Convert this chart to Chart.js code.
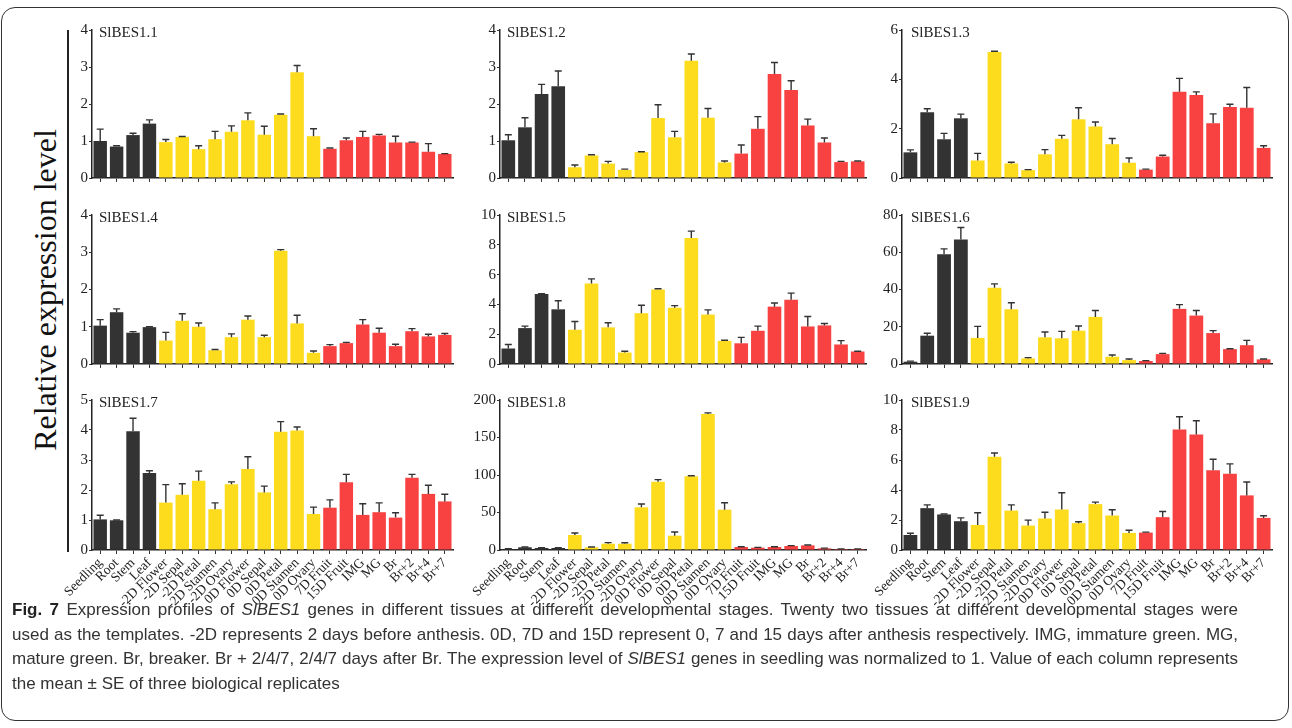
<!DOCTYPE html>
<html>
<head>
<meta charset="utf-8">
<script src="https://cdn.jsdelivr.net/npm/chart.js@4.4.0/dist/chart.umd.min.js"></script>
<style>
  body { margin: 0; width: 1292px; height: 728px; background: #fff; position: relative; overflow: hidden; }
  .frame { position: absolute; left: 1px; top: 7px; width: 1286px; height: 712px; border: 1.5px solid #333; border-radius: 14px; }
  .panel { position: absolute; }
  .ptitle { position: absolute; font-family: "Liberation Serif", "Times New Roman", serif; font-size: 15px; color: #222; line-height: 16px; }
  .ylab { position: absolute; left: -205px; top: 270px; width: 500px; text-align: center; transform: rotate(-90deg);
          font-family: "Liberation Serif", serif; font-size: 32px; color: #111; line-height: 40px; }
  .vline { position: absolute; left: 67px; top: 30px; width: 2px; height: 522px; background: #222; }
  .caption { position: absolute; left: 12px; top: 598px; font-family: "Liberation Sans Narrow", "Arial Narrow", "Liberation Sans", sans-serif;
             font-size: 17px; line-height: 24.5px; color: #333; white-space: nowrap; }
  .caption span { display: inline-block; }
  .caption span.full { width: 1226px; text-align: justify; text-align-last: justify; }
  .caption b { color: #222; }
</style>
</head>
<body>
<div class="frame"></div>
<div class="vline"></div>
<div class="ylab">Relative expression level</div>
<div id="wrap"></div>
<div class="caption">
<span class="full"><b>Fig. 7</b> Expression profiles of <i>SlBES1</i> genes in different tissues at different developmental stages. Twenty two tissues at different developmental stages were</span><br>
<span class="full">used as the templates. -2D represents 2 days before anthesis. 0D, 7D and 15D represent 0, 7 and 15 days after anthesis respectively. IMG, immature green. MG,</span><br>
<span class="full">mature green. Br, breaker. Br + 2/4/7, 2/4/7 days after Br. The expression level of <i>SlBES1</i> genes in seedling was normalized to 1. Value of each column represents</span><br>
<span>the mean ± SE of three biological replicates</span>
</div>

<script>
// tissues on the x axis
const tissues = ['Seedling', 'Root', 'Stem', 'Leaf',
  '-2D Flower', '-2D Sepal', '-2D Petal', '-2D Stamen', '-2D Ovary',
  '0D Flower', '0D Sepal', '0D Petal', '0D Stamen', '0D Ovary',
  '7D Fruit', '15D Fruit', 'IMG', 'MG', 'Br', 'Br+2', 'Br+4', 'Br+7'];
const groupSizes = [4, 10, 8];
const groupColors = ['#333333', '#FDDB1D', '#F84141'];

// mean values and SE for each gene
const vals11 = [1.0, 0.85, 1.16, 1.47, 0.97, 1.11, 0.78, 1.05, 1.25, 1.56, 1.17, 1.71, 2.86, 1.13, 0.79, 1.02, 1.11, 1.15, 0.96, 0.96, 0.71, 0.65];
const errs11 = [0.32, 0.02, 0.05, 0.1, 0.07, 0.01, 0.09, 0.21, 0.16, 0.2, 0.23, 0.02, 0.18, 0.2, 0.02, 0.06, 0.15, 0.03, 0.17, 0.01, 0.22, 0.01];
const vals12 = [1.02, 1.37, 2.27, 2.48, 0.29, 0.61, 0.39, 0.22, 0.7, 1.62, 1.1, 3.17, 1.63, 0.42, 0.66, 1.33, 2.81, 2.38, 1.42, 0.96, 0.43, 0.45];
const errs12 = [0.15, 0.26, 0.26, 0.41, 0.06, 0.02, 0.06, 0.02, 0.01, 0.36, 0.16, 0.18, 0.25, 0.04, 0.23, 0.33, 0.31, 0.25, 0.17, 0.12, 0.02, 0.01];
const vals13 = [1.04, 2.67, 1.57, 2.42, 0.71, 5.11, 0.59, 0.32, 0.96, 1.59, 2.38, 2.09, 1.37, 0.62, 0.34, 0.87, 3.5, 3.36, 2.22, 2.88, 2.85, 1.22];
const errs13 = [0.1, 0.14, 0.24, 0.17, 0.29, 0.03, 0.05, 0.02, 0.19, 0.14, 0.47, 0.18, 0.23, 0.19, 0.02, 0.05, 0.54, 0.13, 0.38, 0.11, 0.82, 0.09];
const vals14 = [1.03, 1.39, 0.84, 0.99, 0.63, 1.16, 1.0, 0.37, 0.72, 1.19, 0.72, 3.04, 1.09, 0.3, 0.48, 0.56, 1.06, 0.84, 0.48, 0.88, 0.74, 0.78];
const errs14 = [0.16, 0.09, 0.03, 0.01, 0.22, 0.19, 0.1, 0.02, 0.09, 0.1, 0.05, 0.03, 0.22, 0.05, 0.04, 0.02, 0.13, 0.12, 0.05, 0.07, 0.06, 0.04];
const vals15 = [1.04, 2.41, 4.69, 3.67, 2.3, 5.4, 2.46, 0.77, 3.41, 5.0, 3.78, 8.45, 3.32, 1.55, 1.39, 2.23, 3.85, 4.31, 2.52, 2.59, 1.31, 0.84];
const errs15 = [0.27, 0.13, 0.03, 0.58, 0.55, 0.31, 0.31, 0.09, 0.53, 0.05, 0.14, 0.47, 0.31, 0.04, 0.4, 0.31, 0.24, 0.45, 0.67, 0.13, 0.26, 0.02];
const vals16 = [1.24, 15.2, 58.9, 66.9, 14.0, 40.9, 29.4, 3.0, 14.3, 13.8, 17.9, 25.3, 3.9, 2.1, 1.6, 5.3, 29.6, 26.0, 16.6, 8.0, 10.1, 2.5];
const errs16 = [0.3, 1.3, 2.9, 6.4, 6.2, 2.1, 3.5, 0.4, 2.9, 3.7, 2.5, 3.4, 0.9, 0.6, 0.2, 0.4, 2.3, 2.7, 1.3, 0.2, 2.6, 0.2];
const vals17 = [1.02, 0.99, 3.96, 2.57, 1.58, 1.84, 2.31, 1.36, 2.19, 2.7, 1.92, 3.94, 3.98, 1.2, 1.41, 2.26, 1.17, 1.26, 1.08, 2.41, 1.87, 1.62];
const errs17 = [0.14, 0.01, 0.43, 0.07, 0.6, 0.37, 0.32, 0.21, 0.08, 0.41, 0.21, 0.34, 0.12, 0.23, 0.26, 0.26, 0.37, 0.31, 0.16, 0.11, 0.29, 0.24];
const vals18 = [1.3, 3.6, 2.7, 2.7, 20.0, 3.6, 8.4, 8.4, 56.9, 91.1, 19.1, 98.2, 181.3, 53.8, 4.0, 3.1, 4.0, 5.3, 6.2, 2.2, 1.3, 1.3];
const errs18 = [0.3, 0.5, 0.4, 0.4, 2.7, 0.5, 1.4, 1.2, 4.4, 2.7, 4.9, 0.8, 1.5, 9.3, 0.4, 0.4, 0.4, 0.6, 0.5, 0.3, 0.2, 0.2];
const vals19 = [1.0, 2.79, 2.37, 1.92, 1.67, 6.21, 2.63, 1.63, 2.1, 2.7, 1.79, 3.06, 2.3, 1.14, 1.16, 2.19, 8.04, 7.7, 5.31, 5.09, 3.64, 2.14];
const errs19 = [0.12, 0.22, 0.03, 0.22, 0.81, 0.26, 0.38, 0.36, 0.42, 1.12, 0.09, 0.13, 0.38, 0.18, 0.03, 0.38, 0.84, 0.92, 0.74, 0.65, 0.89, 0.14];

// y axis max / step per gene
const yMax = [4, 4, 6, 4, 10, 80, 5, 200, 10];
const yStep = [1, 1, 2, 1, 2, 20, 1, 50, 2];

const panels = [
  { title: 'SlBES1.1', vals: vals11, errs: errs11 },
  { title: 'SlBES1.2', vals: vals12, errs: errs12 },
  { title: 'SlBES1.3', vals: vals13, errs: errs13 },
  { title: 'SlBES1.4', vals: vals14, errs: errs14 },
  { title: 'SlBES1.5', vals: vals15, errs: errs15 },
  { title: 'SlBES1.6', vals: vals16, errs: errs16 },
  { title: 'SlBES1.7', vals: vals17, errs: errs17 },
  { title: 'SlBES1.8', vals: vals18, errs: errs18 },
  { title: 'SlBES1.9', vals: vals19, errs: errs19 }
];

// grid positions (pixels)
const colAxis = [92, 500, 902];
const colRight = [453, 866, 1272];
const rowTop = [30, 215, 400];
const rowBottom = [180, 366, 550];
const titleX = [99, 507, 911];

const barColors = [];
groupSizes.forEach((n, g) => { for (let i = 0; i < n; i++) barColors.push(groupColors[g]); });

// upper error bars
const errorBars = {
  id: 'errorBars',
  afterDatasetsDraw(chart) {
    const ctx = chart.ctx;
    const yScale = chart.scales.y;
    const meta = chart.getDatasetMeta(0);
    const errs = chart.data.datasets[0].errs;
    ctx.save();
    ctx.strokeStyle = '#333';
    ctx.lineWidth = 1.4;
    meta.data.forEach((bar, i) => {
      const v = chart.data.datasets[0].data[i];
      const yTop = yScale.getPixelForValue(v + errs[i]);
      ctx.beginPath();
      ctx.moveTo(bar.x, bar.y);
      ctx.lineTo(bar.x, yTop);
      ctx.moveTo(bar.x - 3.5, yTop);
      ctx.lineTo(bar.x + 3.5, yTop);
      ctx.stroke();
    });
    ctx.restore();
  }
};

const wrap = document.getElementById('wrap');
const padTop = 12, leftRoom = 60;

panels.forEach((p, k) => {
  const col = k % 3, row = Math.floor(k / 3);
  const xh = row === 2 ? 60 : 8;
  const w = colRight[col] - colAxis[col] + leftRoom + 6;
  const h = rowBottom[row] - rowTop[row] + padTop + xh;

  const box = document.createElement('div');
  box.className = 'panel';
  box.style.left = (colAxis[col] - leftRoom) + 'px';
  box.style.top = (rowTop[row] - padTop) + 'px';
  box.style.width = w + 'px';
  box.style.height = h + 'px';
  const cv = document.createElement('canvas');
  box.appendChild(cv);
  wrap.appendChild(box);

  const t = document.createElement('div');
  t.className = 'ptitle';
  t.textContent = p.title;
  t.style.left = titleX[col] + 'px';
  t.style.top = (rowTop[row] - 6) + 'px';
  wrap.appendChild(t);

  new Chart(cv, {
    type: 'bar',
    data: {
      labels: tissues,
      datasets: [{
        data: p.vals,
        errs: p.errs,
        backgroundColor: barColors,
        borderWidth: 0,
        categoryPercentage: 0.82,
        barPercentage: 1.0
      }]
    },
    options: {
      responsive: true,
      maintainAspectRatio: false,
      animation: false,
      layout: { padding: { top: padTop, right: 6, left: 0, bottom: 0 } },
      plugins: { legend: { display: false }, tooltip: { enabled: false } },
      scales: {
        x: {
          offset: true,
          afterFit: s => { s.height = xh; },
          grid: { offset: false, drawOnChartArea: false, drawTicks: true, tickLength: 4, color: '#333', lineWidth: 1 },
          border: { display: true, color: '#222', width: 1.5 },
          ticks: {
            display: row === 2,
            autoSkip: false,
            minRotation: 45,
            maxRotation: 45,
            padding: 1,
            color: '#222',
            font: { family: '"Liberation Serif", serif', size: 13.5 }
          }
        },
        y: {
          min: 0,
          max: yMax[k],
          afterFit: s => { s.width = leftRoom; },
          grid: { drawOnChartArea: false, drawTicks: true, tickLength: 3, color: '#333' },
          border: { display: true, color: '#222', width: 1.5 },
          ticks: {
            stepSize: yStep[k],
            padding: 1,
            color: '#222',
            font: { family: '"Liberation Serif", serif', size: 15 }
          }
        }
      }
    },
    plugins: [errorBars]
  });
});
</script>
</body>
</html>
